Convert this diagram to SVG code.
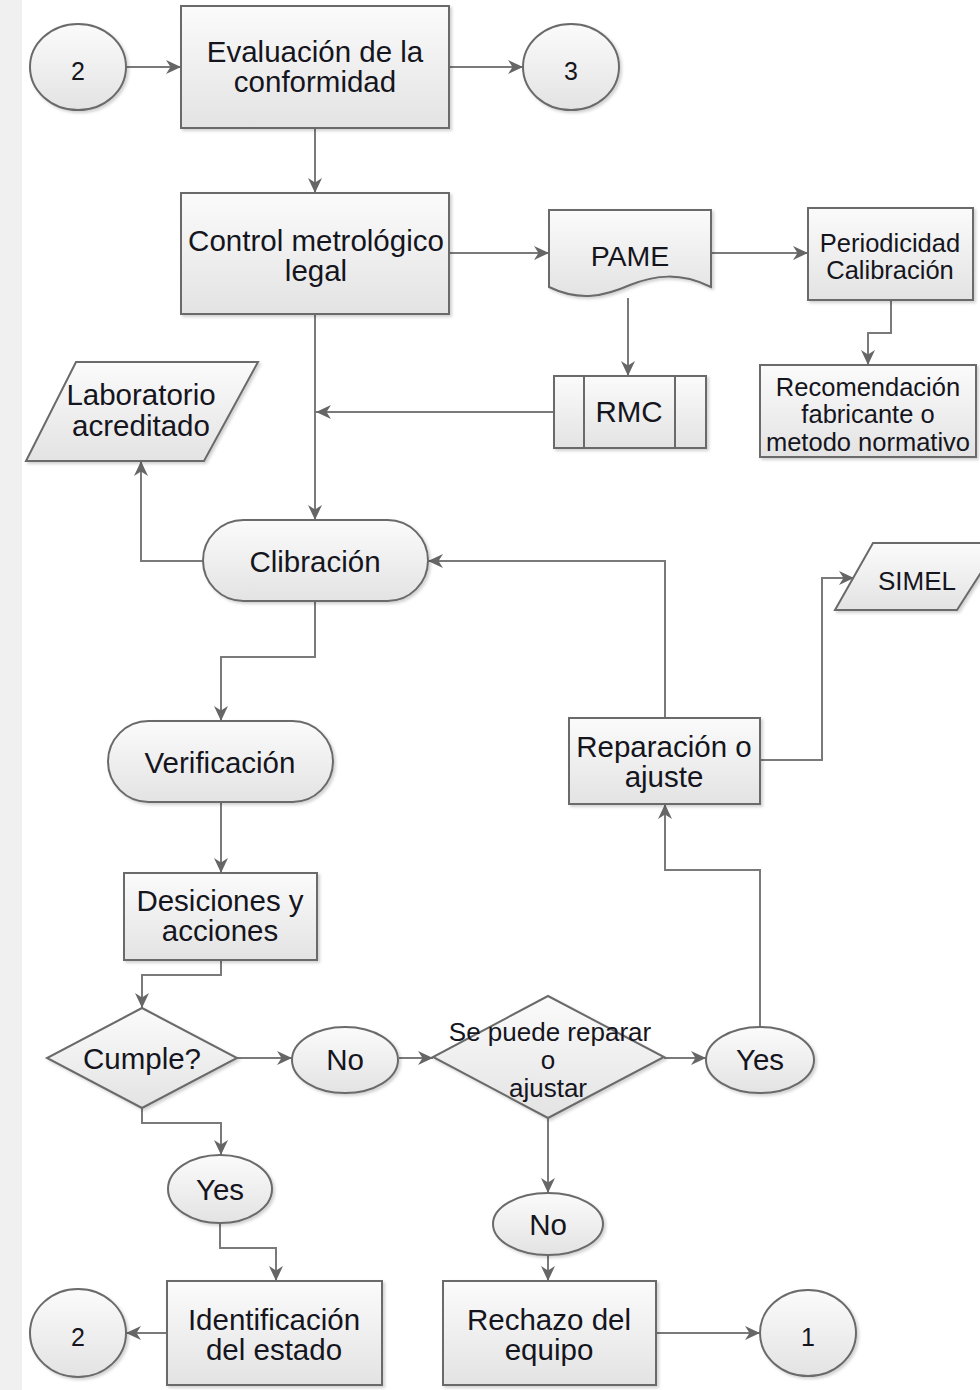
<svg xmlns="http://www.w3.org/2000/svg" width="980" height="1390" viewBox="0 0 980 1390">
  <defs>
    <linearGradient id="fillGrad" x1="0" y1="0" x2="0" y2="1">
      <stop offset="0" stop-color="#fbfbfb"/>
      <stop offset="1" stop-color="#e3e3e3"/>
    </linearGradient>
    <filter id="shadow" x="-10%" y="-10%" width="130%" height="130%">
      <feDropShadow dx="2" dy="2" stdDeviation="1.5" flood-color="#000" flood-opacity="0.18"/>
    </filter>
    <marker id="arrow" markerUnits="userSpaceOnUse" markerWidth="18" markerHeight="16" refX="15" refY="8" orient="auto">
      <path d="M0,1 L15,8 L0,15 L4.5,8 z" fill="#666666"/>
    </marker>
    <style>
      .shape { fill: url(#fillGrad); stroke: #6a6a6a; stroke-width: 2; filter: url(#shadow); }
      .line { fill: none; stroke: #7a7a7a; stroke-width: 2; marker-end: url(#arrow); }
      .plain { fill: none; stroke: #6a6a6a; stroke-width: 2; }
      text { font-family: "Liberation Sans", Arial, sans-serif; fill: #15151d; text-anchor: middle; }
      .t { font-size: 29.5px; }
      .s { font-size: 25.5px; }
      .n { font-size: 25px; }
      .d { font-size: 26px; }
    </style>
  </defs>

  <!-- page margin strip -->
  <rect x="0" y="0" width="22" height="1390" fill="#f0f0f0"/>

  <!-- connectors -->
  <g id="connectors">
    <path class="line" d="M125,67 H181"/>
    <path class="line" d="M449,67 H523"/>
    <path class="line" d="M315,128 V193"/>
    <path class="line" d="M449,253 H549"/>
    <path class="line" d="M711,253 H808"/>
    <path class="line" d="M891,300 V333 H868 V365"/>
    <path class="line" d="M628,298 V376"/>
    <path class="line" d="M553,412 H316"/>
    <path class="line" d="M315,314 V520"/>
    <path class="line" d="M203,561 H141 V461"/>
    <path class="line" d="M665,718 V561 H428"/>
    <path class="line" d="M315,601 V657 H221 V721"/>
    <path class="line" d="M221,802 V873"/>
    <path class="line" d="M221,960 V975 H142 V1008"/>
    <path class="line" d="M237,1058 H292"/>
    <path class="line" d="M399,1058 H433"/>
    <path class="line" d="M664,1058 H706"/>
    <path class="line" d="M760,1027 V870 H665 V804"/>
    <path class="line" d="M760,760 H822 V578 H854"/>
    <path class="line" d="M142,1108 V1123 H221 V1155"/>
    <path class="line" d="M220,1223 V1248 H276 V1281"/>
    <path class="line" d="M167,1333 H126"/>
    <path class="line" d="M548,1118 V1193"/>
    <path class="line" d="M548,1255 V1281"/>
    <path class="line" d="M656,1333 H760"/>
  </g>

  <!-- off-page connector 2 (top) -->
  <g id="conn-2-top">
    <ellipse class="shape" cx="78" cy="67" rx="48" ry="43"/>
    <text class="n" x="78" y="80">2</text>
  </g>

  <g id="evaluacion">
    <rect class="shape" x="181" y="6" width="268" height="122"/>
    <text class="t" x="315" y="62">Evaluación de la</text>
    <text class="t" x="315" y="92">conformidad</text>
  </g>

  <g id="conn-3">
    <ellipse class="shape" cx="571" cy="67" rx="48" ry="43"/>
    <text class="n" x="571" y="80">3</text>
  </g>

  <g id="control">
    <rect class="shape" x="181" y="193" width="268" height="121"/>
    <text class="t" x="316" y="251">Control metrológico</text>
    <text class="t" x="316" y="281">legal</text>
  </g>

  <g id="pame">
    <path class="shape" d="M549,210 H711 V287 C680,272 655,275 630,285 C605,296 580,302 549,287 Z"/>
    <text class="t" x="630" y="266" style="font-size:28.5px">PAME</text>
  </g>

  <g id="periodicidad">
    <rect class="shape" x="808" y="208" width="165" height="92"/>
    <text class="s" x="890" y="252">Periodicidad</text>
    <text class="s" x="890" y="279">Calibración</text>
  </g>

  <g id="recomendacion">
    <rect class="shape" x="760" y="365" width="216" height="92"/>
    <text class="s" x="868" y="396">Recomendación</text>
    <text class="s" x="868" y="423">fabricante o</text>
    <text class="s" x="868" y="451">metodo normativo</text>
  </g>

  <g id="rmc">
    <rect class="shape" x="554" y="376" width="152" height="72"/>
    <line class="plain" x1="584" y1="376" x2="584" y2="448"/>
    <line class="plain" x1="675" y1="376" x2="675" y2="448"/>
    <text class="t" x="629" y="422">RMC</text>
  </g>

  <g id="laboratorio">
    <polygon class="shape" points="76,362 258,362 204,461 26,461"/>
    <text class="t" x="141" y="405">Laboratorio</text>
    <text class="t" x="141" y="436">acreditado</text>
  </g>

  <g id="calibracion">
    <rect class="shape" x="203" y="520" width="225" height="81" rx="40.5" ry="40.5"/>
    <text class="t" x="315" y="572">Clibración</text>
  </g>

  <g id="simel">
    <polygon class="shape" points="873,543 1000,543 957,610 835,610"/>
    <text class="d" x="917" y="590">SIMEL</text>
  </g>

  <g id="reparacion">
    <rect class="shape" x="569" y="718" width="191" height="86"/>
    <text class="t" x="664" y="757">Reparación o</text>
    <text class="t" x="664" y="787">ajuste</text>
  </g>

  <g id="verificacion">
    <rect class="shape" x="108" y="721" width="225" height="81" rx="40.5" ry="40.5"/>
    <text class="t" x="220" y="773">Verificación</text>
  </g>

  <g id="desiciones">
    <rect class="shape" x="124" y="873" width="193" height="87"/>
    <text class="t" x="220" y="911">Desiciones y</text>
    <text class="t" x="220" y="941">acciones</text>
  </g>

  <g id="cumple">
    <polygon class="shape" points="142,1008 237,1058 142,1108 47,1058"/>
    <text class="t" x="142" y="1069">Cumple?</text>
  </g>

  <g id="no-1">
    <ellipse class="shape" cx="345" cy="1060" rx="53" ry="33"/>
    <text class="t" x="345" y="1070">No</text>
  </g>

  <g id="reparable">
    <polygon class="shape" points="548,996 664,1057 548,1118 433,1057"/>
    <text class="d" x="550" y="1041">Se puede reparar</text>
    <text class="d" x="548" y="1069">o</text>
    <text class="d" x="548" y="1097">ajustar</text>
  </g>

  <g id="yes-1">
    <ellipse class="shape" cx="760" cy="1060" rx="54" ry="33"/>
    <text class="t" x="760" y="1070">Yes</text>
  </g>

  <g id="yes-2">
    <ellipse class="shape" cx="220" cy="1189" rx="52" ry="34"/>
    <text class="t" x="220" y="1200">Yes</text>
  </g>

  <g id="no-2">
    <ellipse class="shape" cx="548" cy="1224" rx="55" ry="31"/>
    <text class="t" x="548" y="1235">No</text>
  </g>

  <g id="identificacion">
    <rect class="shape" x="167" y="1281" width="215" height="104"/>
    <text class="t" x="274" y="1330">Identificación</text>
    <text class="t" x="274" y="1360">del estado</text>
  </g>

  <g id="rechazo">
    <rect class="shape" x="443" y="1281" width="213" height="104"/>
    <text class="t" x="549" y="1330">Rechazo del</text>
    <text class="t" x="549" y="1360">equipo</text>
  </g>

  <g id="conn-2-bottom">
    <ellipse class="shape" cx="78" cy="1333" rx="48" ry="44"/>
    <text class="n" x="78" y="1346">2</text>
  </g>

  <g id="conn-1">
    <ellipse class="shape" cx="808" cy="1333" rx="48" ry="43"/>
    <text class="n" x="808" y="1346">1</text>
  </g>
</svg>
